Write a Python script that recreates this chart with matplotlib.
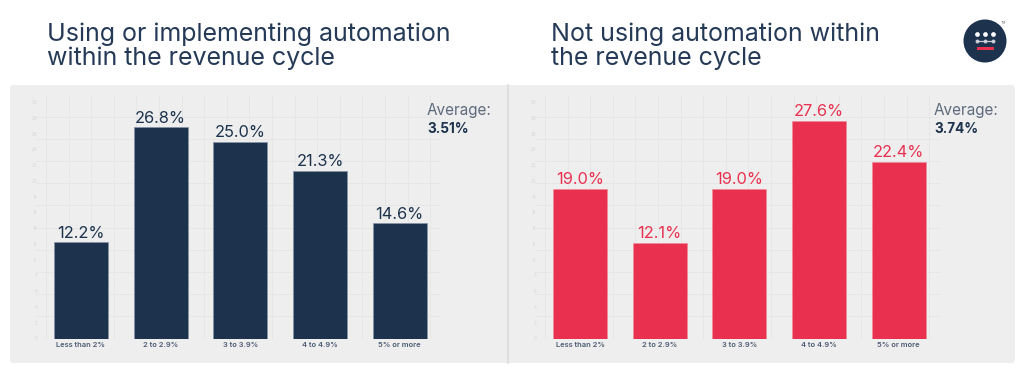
import matplotlib
matplotlib.use("Agg")
import matplotlib.pyplot as plt
from matplotlib.patches import Circle, FancyBboxPatch, Rectangle
from matplotlib.ticker import MultipleLocator

categories = ["Less than 2%", "2 to 2.9%", "3 to 3.9%", "4 to 4.9%", "5% or more"]
using_values = [12.2, 26.8, 25.0, 21.3, 14.6]
not_using_values = [19.0, 12.1, 19.0, 27.6, 22.4]
using_title = "Using or implementing automation\nwithin the revenue cycle"
not_using_title = "Not using automation within\nthe revenue cycle"
using_average = "3.51%"
not_using_average = "3.74%"
y_ticks = list(range(0, 32, 2))

NAVY = "#1c324d"
RED = "#e9314f"
W, H = 1024, 372
BAND = 79.7

plt.rcParams["font.family"] = "Inter"

fig = plt.figure(figsize=(W / 100, H / 100), dpi=100, facecolor="white")


def px_axes(left, top, right, bottom):
    return fig.add_axes([left / W, 1 - bottom / H, (right - left) / W, (bottom - top) / H])


# background panel and logo, in pixel coordinates
bg = fig.add_axes([0, 0, 1, 1])
bg.set_xlim(0, W)
bg.set_ylim(H, 0)
bg.axis("off")
bg.add_patch(FancyBboxPatch((13, 88), 999, 272, boxstyle="round,pad=3", fc="#eeeeee", ec="none"))
bg.plot([508, 508], [85, 363], color="#dcdcdc", lw=1.2)
bg.add_patch(Circle((985, 41), 21.5, fc=NAVY, ec="none"))
bg.plot([977, 985, 993], [33.5, 33.5, 33.5], "o", color="white", ms=2.4)
bg.plot([977, 993], [41, 41], color="#c9ced6", lw=0.9)
bg.plot([977, 985, 993], [41, 41, 41], "o", color="#c9ced6", ms=1.8)
bg.add_patch(Rectangle((976.5, 47), 17.5, 2.6, fc=RED, ec="none"))
bg.text(1003, 23, "TM", fontsize=2.5, color="#777777", ha="center", va="center")


def draw_chart(left, first_center, right, values, color, title, title_x, average, avg_x):
    ax = px_axes(left, 96, right, 338.5)
    ax.patch.set_alpha(0)
    x0 = (left - first_center) / BAND
    ax.set_xlim(x0, x0 + (right - left) / BAND)
    ax.set_ylim(0, 242.5 / 7.88)
    ax.bar(range(len(values)), values, width=0.678, color=color, edgecolor="#8694a6" if color == NAVY else "#ee8a9b",
           linewidth=0.5, zorder=3)
    for i, v in enumerate(values):
        ax.annotate(f"{v:.1f}%", (i, v), xytext=(0, 1.2), textcoords="offset points", ha="center", va="bottom",
                    fontsize=11.8, color=color, zorder=4)
    ax.set_xticks(range(len(categories)))
    ax.set_xticklabels(categories, fontsize=5.4, fontweight="semibold", color="#4a5a70")
    ax.set_yticks(y_ticks)
    ax.set_yticklabels(y_ticks, fontsize=3.2, color="#d8d8d8")
    ax.tick_params(axis="x", which="major", length=0, pad=2.5)
    ax.tick_params(axis="y", which="major", length=0, pad=-1)
    # the faint grid does not follow the value ticks
    ax.xaxis.set_minor_locator(MultipleLocator(0.2836, offset=(x0 + 10 / BAND) % 0.2836))
    ax.yaxis.set_minor_locator(MultipleLocator(2.815))
    ax.tick_params(which="minor", length=0)
    ax.grid(which="minor", color="#e6e6e6", lw=0.7, zorder=0)
    ax.grid(which="major", visible=False)
    for s in ax.spines.values():
        s.set_visible(False)
    fig.text(title_x / W, 1 - 22 / H, title, fontsize=18, color="#253a56", va="top", ha="left", linespacing=1.06)
    fig.text(avg_x / W, 1 - 111 / H, "Average:", fontsize=11, color="#5d6b7d", va="center")
    fig.text(avg_x / W, 1 - 129 / H, average, fontsize=9.8, color=NAVY, va="center", fontweight="bold")


draw_chart(36, 81, 440, using_values, NAVY, using_title, 47, using_average, 427)
draw_chart(535, 580, 940, not_using_values, RED, not_using_title, 551, not_using_average, 934)

fig.savefig("out.png", dpi=100)
